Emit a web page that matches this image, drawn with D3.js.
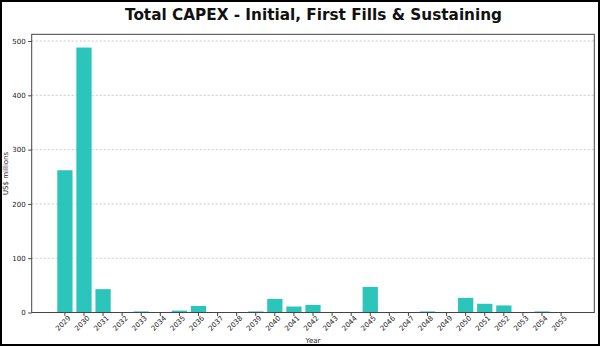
<!DOCTYPE html>
<html><head><meta charset="utf-8">
<script src="https://cdn.jsdelivr.net/npm/d3@7"></script>
<style>body{margin:0;background:#fff}svg{display:block}</style>
</head><body>
<script>
const years = ["2029","2030","2031","2032","2033","2034","2035","2036","2037","2038","2039","2040","2041","2042","2043","2044","2045","2046","2047","2048","2049","2050","2051","2052","2053","2054","2055"];
const capex = [262,488,43,0.3,2,0.3,3.5,12,0.5,0.5,2,25,11,14,0.5,0.5,47,0.5,0.5,2,0.5,27,16,13,0.5,2,0];
const yTicks = [0,100,200,300,400,500];
const title = "Total CAPEX - Initial, First Fills & Sustaining";
const yLabel = "US$ millions";
const xLabel = "Year";

const W = 601, H = 347;
const L = 31.7, R = 594.3, T = 34.3, B = 312.5;
const svg = d3.select("body").append("svg").attr("width", W).attr("height", H);
svg.append("rect").attr("x",1).attr("y",1).attr("width",W-3).attr("height",H-3)
  .attr("fill","#fff").attr("stroke","#000").attr("stroke-width",2);

const x = d3.scaleBand().domain(years).range([L,R]).paddingInner(0.2).paddingOuter(1.34);
const y = d3.scaleLinear().domain([0, 488*1.05]).range([B,T]);

const font = "DejaVu Sans, sans-serif";
svg.append("g").selectAll("line").data(yTicks.slice(1)).join("line")
  .attr("x1",L).attr("x2",R).attr("y1",d=>y(d)).attr("y2",d=>y(d))
  .attr("stroke","#bdbdbd").attr("stroke-width",0.8).attr("stroke-dasharray","2,2");

svg.append("g").selectAll("rect").data(years).join("rect")
  .attr("x",d=>x(d)).attr("width",x.bandwidth())
  .attr("y",(d,i)=>y(capex[i])).attr("height",(d,i)=>B-y(capex[i]))
  .attr("fill","#2bc5bc");

svg.append("rect").attr("x",L).attr("y",T).attr("width",R-L).attr("height",B-T)
  .attr("fill","none").attr("stroke","#444").attr("stroke-width",1);

const yAxis = svg.append("g").attr("transform",`translate(${L},0)`)
  .call(d3.axisLeft(y).tickValues(yTicks).tickSize(3.5).tickPadding(2.5));
yAxis.select(".domain").remove();
yAxis.selectAll("line").attr("stroke","#444");
yAxis.selectAll("text").attr("font-family",font).attr("font-size",7).attr("fill","#222");

const xAxis = svg.append("g").attr("transform",`translate(0,${B})`)
  .call(d3.axisBottom(x).tickSize(3.5).tickFormat(""));
xAxis.select(".domain").remove();
xAxis.selectAll("line").attr("stroke","#444");
svg.append("g").selectAll("text").data(years).join("text")
  .attr("transform",d=>`translate(${x(d)+x.bandwidth()/2-1.5},${B+11}) rotate(-45)`)
  .attr("text-anchor","middle").attr("dominant-baseline","central")
  .attr("font-family",font).attr("font-size",7).attr("fill","#222").text(d=>d);

svg.append("text").attr("x",313).attr("y",343).attr("text-anchor","middle")
  .attr("font-family",font).attr("font-size",7).attr("fill","#222").text(xLabel);
svg.append("text").attr("transform",`translate(8,${(T+B)/2}) rotate(-90)`).attr("text-anchor","middle")
  .attr("font-family",font).attr("font-size",7).attr("fill","#222").text(yLabel);

svg.append("text").attr("x",313.5).attr("y",20).attr("text-anchor","middle")
  .attr("font-family",font).attr("font-weight","bold").attr("font-size",16).attr("fill","#111")
  .attr("textLength",377).attr("lengthAdjust","spacingAndGlyphs")
  .text(title);
</script>
</body></html>
